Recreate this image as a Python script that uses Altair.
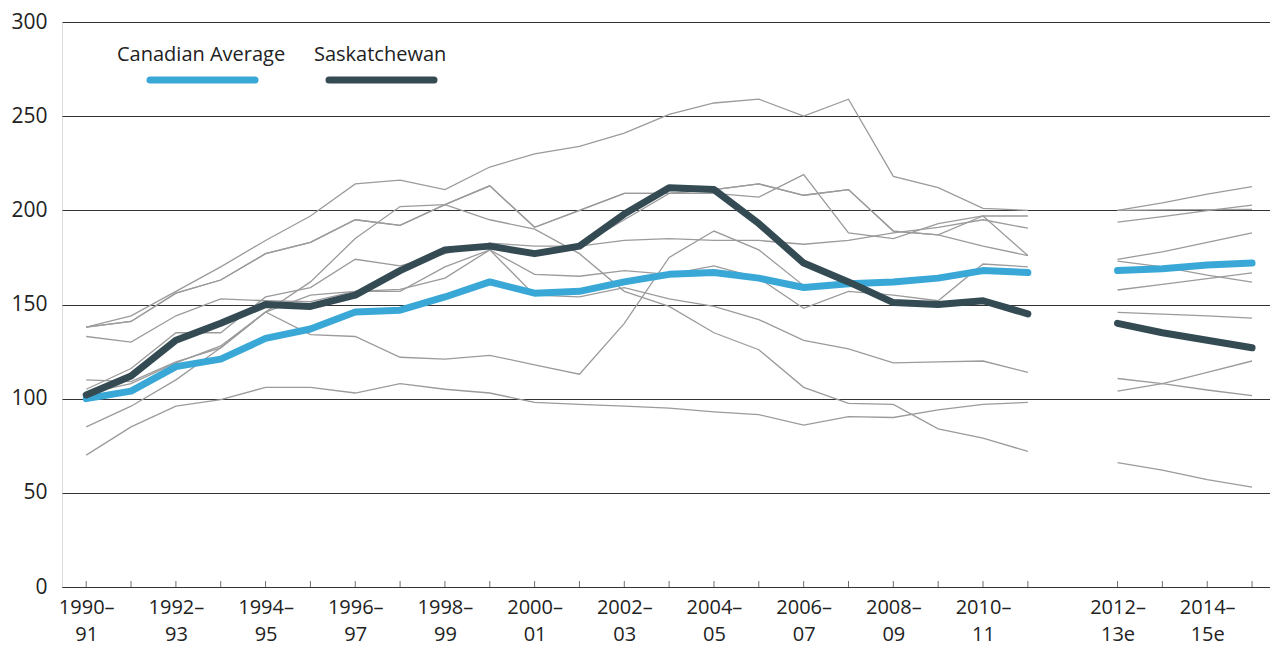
import json
import altair as alt
import pandas as pd

# ---------------- data ----------------
periods = ["1990–91", "1991–92", "1992–93", "1993–94", "1994–95", "1995–96",
           "1996–97", "1997–98", "1998–99", "1999–00", "2000–01", "2001–02",
           "2002–03", "2003–04", "2004–05", "2005–06", "2006–07", "2007–08",
           "2008–09", "2009–10", "2010–11", "2011–12",
           "2012–13e", "2013–14e", "2014–15e", "2015–16e"]
n_actual = 22  # first 22 periods are actual values, the rest are estimates

canadian_average = [100, 104, 117, 121, 132, 137, 146, 147, 154, 162, 156, 157,
                    162, 166, 167, 164, 159, 161, 162, 164, 168, 167,
                    168, 169, 171, 172]
saskatchewan = [102, 112, 131, 140, 150, 149, 155, 168, 179, 181, 177, 181,
                198, 212, 211, 193, 172, 162, 151, 150, 152, 145,
                140, 135, 131, 127]

prov_a = [138, 144, 157, 170, 184, 197, 214, 216, 211, 223, 230, 234,
          241, 251, 257, 259, 250, 259, 218, 212, 201, 200,
          200, 204, 208.6, 212.6]
prov_b = [138, 141, 156, 163, 177, 183, 195, 192, 203, 213, 191, 200,
          209, 209, 211, 214, 208, 211, 189, 187, 181, 176,
          174, 178, 183, 188]
prov_c = [110, 109, 119.5, 127, 146, 162, 185, 202, 203, 195, 190, 177,
          157, 149, 135, 126, 106, 97.5, 97, 84, 79, 72,
          66, 62, 57, 53]
prov_d = [70, 85, 96, 99.5, 106, 106, 103, 108, 105, 103, 98, 97,
          96, 95, 93, 91.5, 86, 90.5, 90, 94, 97, 98,
          104, 108, 114, 120]
prov_e = [133, 130, 144, 153, 152, 151.5, 157, 158, 164, 179, 155, 154,
          159, 153, 149, 142, 131, 126.5, 119, 119.5, 120, 114,
          110.7, 108, 104.6, 101.6]
prov_f = [85, 96, 110, 127, 146, 155, 157, 157, 170, 179, 166, 165,
          168, 166, 170.5, 164, 148, 157, 155, 152, 171.5, 170,
          157.7, 160.7, 163.7, 166.8]
prov_g = [105, 116, 135, 135, 154, 159, 174, 170.5, 177, 182.6, 181, 181,
          184, 185, 184, 184, 182, 184, 188, 191, 195, 190.5,
          193.7, 196.7, 199.8, 202.8]
prov_h = [102, 113, 131, 140, 150, 149, 155, 168, 179, 181, 177, 181,
          195, 209, 209, 207, 219, 188, 185, 193, 197, 197,
          200, 200.2, 200.4, 200.5]
prov_i = [103, 108, 119, 128, 146, 134, 133, 122, 121, 123, 118, 113,
          140, 175, 189, 179, 160, 161, 162, 164, 168, 167,
          145.8, 144.9, 144, 142.8]
prov_j = [138, 141, 156, 163, 177, 183, 195, 192, 203, 213, 191, 200,
          209, 209, 211, 214, 208, 211, 189, 187, 197, 176,
          173, 170, 165.6, 161.9]

other_provinces = [prov_a, prov_b, prov_c, prov_d, prov_e,
                   prov_f, prov_g, prov_h, prov_i, prov_j]

y_ticks = [0, 50, 100, 150, 200, 250, 300]

legend_labels = ["Canadian Average", "Saskatchewan"]
legend_colors = ["#3aa8d7", "#344b54"]


# ---------------- helpers ----------------
def slot(i):
    # one empty slot between the actual values and the estimates
    return i if i < n_actual else i + 1


def long_rows(name, values):
    rows = []
    for i, (p, v) in enumerate(zip(periods, values)):
        rows.append({"series": name, "period": p, "pos": slot(i), "value": v,
                     "seg": "actual" if i < n_actual else "estimate"})
    return rows


gray_rows = []
for k, vals in enumerate(other_provinces):
    gray_rows += long_rows(f"p{k}", vals)
gray_df = pd.DataFrame(gray_rows)
can_df = pd.DataFrame(long_rows("Canadian Average", canadian_average))
sask_df = pd.DataFrame(long_rows("Saskatchewan", saskatchewan))
tick_df = pd.DataFrame({"pos": [slot(i) for i in range(len(periods))],
                        "value": [0] * len(periods)})

# two-line labels for every other period
label_positions = []
label_array = [""] * (slot(len(periods) - 1) + 1)
for i, p in enumerate(periods):
    j = i if i < n_actual else i - n_actual
    if j % 2 == 0:
        a, b = p.split("–")
        label_array[slot(i)] = [a + "–", b]
        label_positions.append(slot(i))
label_expr = json.dumps(label_array, ensure_ascii=False) + "[datum.value]"

FONT = "Open Sans"
TEXT = "#222222"
PLOT_H = 565

x_enc = alt.X("pos:Q", title=None,
              scale=alt.Scale(domain=[-0.54, 26.4], nice=False, zero=False),
              axis=alt.Axis(values=label_positions, labelExpr=label_expr,
                            ticks=False, grid=False, domain=True,
                            domainColor="#333333", domainWidth=1.2,
                            labelFont=FONT, labelFontSize=20, labelColor=TEXT,
                            labelLineHeight=27, labelPadding=10,
                            labelBaseline="top", labelFlush=False,
                            labelOverlap=False))
y_enc = alt.Y("value:Q", title=None,
              scale=alt.Scale(domain=[0, 300], nice=False),
              axis=alt.Axis(values=y_ticks, grid=True, gridColor="#333333",
                            gridWidth=1, domain=False, ticks=False,
                            labelFont=FONT, labelFontSize=21, labelColor=TEXT,
                            labelPadding=15))

gray = alt.Chart(gray_df).mark_line(color="#9b9b9b", strokeWidth=1.3).encode(
    x=x_enc, y=y_enc, detail=["series:N", "seg:N"])

can = alt.Chart(can_df).mark_line(color=legend_colors[0], strokeWidth=7,
                                  strokeCap="round", strokeJoin="round").encode(
    x=x_enc, y=y_enc, detail="seg:N")

sask = alt.Chart(sask_df).mark_line(color=legend_colors[1], strokeWidth=7,
                                    strokeCap="round", strokeJoin="round").encode(
    x=x_enc, y=y_enc, detail="seg:N")

ticks = alt.Chart(tick_df).mark_tick(orient="vertical", size=6, thickness=1,
                                     color="#333333", yOffset=-3).encode(
    x=x_enc, y=y_enc)

# legend drawn inside the plot (pixel layout)
one = pd.DataFrame({"a": [0]})
legend_text_x = [55, 252]
legend_line_x = [(88, 193), (267, 372)]
legend_layers = []
for lab, col, tx, (lx1, lx2) in zip(legend_labels, legend_colors,
                                     legend_text_x, legend_line_x):
    legend_layers.append(
        alt.Chart(one).mark_text(text=lab, font=FONT, fontSize=20, color=TEXT,
                                 align="left", baseline="middle").encode(
            x=alt.value(tx), y=alt.value(33)))
    legend_layers.append(
        alt.Chart(one).mark_rule(color=col, strokeWidth=7, strokeCap="round").encode(
            x=alt.value(lx1), x2=alt.value(lx2), y=alt.value(58)))

chart = alt.layer(gray, can, sask, ticks, *legend_layers).properties(
    width=1208, height=PLOT_H,
    autosize=alt.AutoSizeParams(type="none"),
    padding={"left": 54, "top": 14, "right": 0, "bottom": 62},
).configure_view(stroke=None).configure(background="white")

chart.save("out.html", embed_options={"renderer": "svg", "actions": False})
